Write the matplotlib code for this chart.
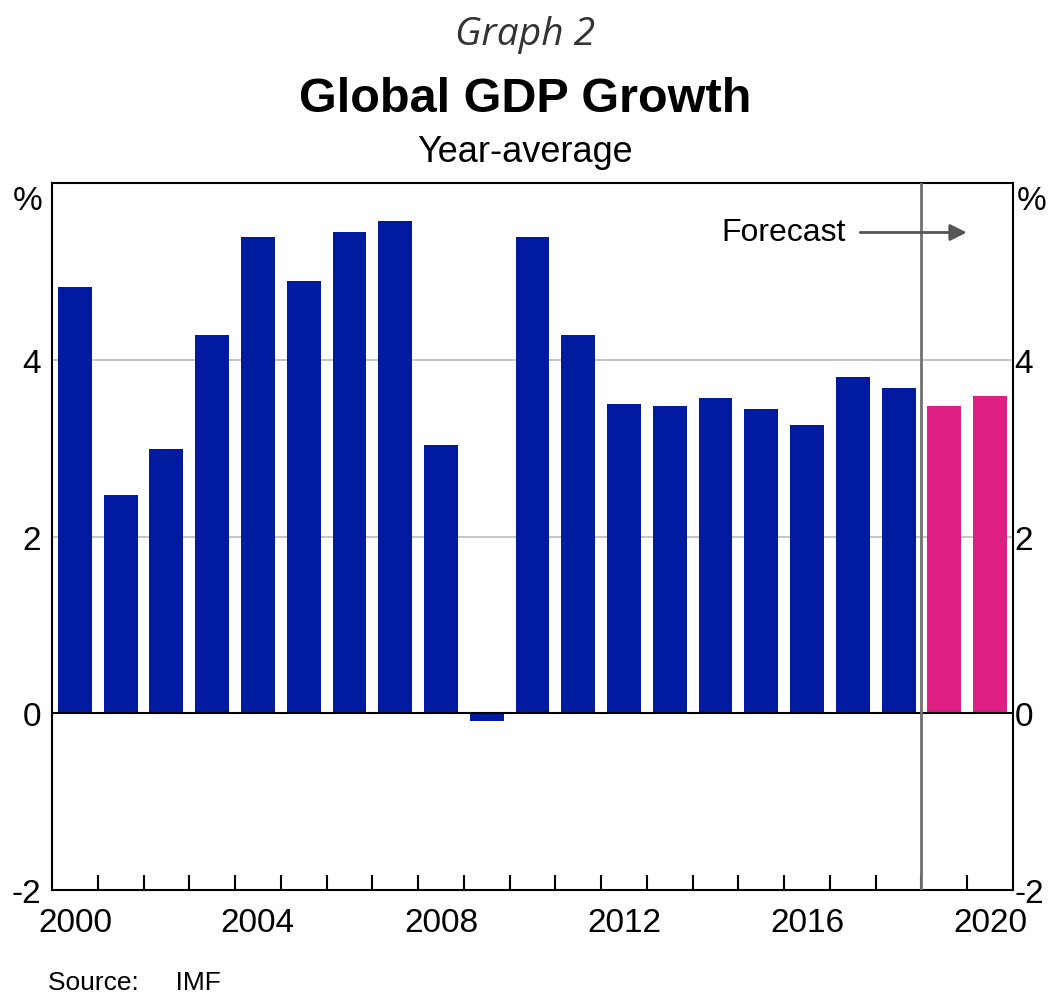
import matplotlib
matplotlib.use('Agg')
import matplotlib.pyplot as plt
import numpy as np

years = list(range(2000, 2021))
growth = [4.82, 2.47, 2.99, 4.28, 5.39, 4.89, 5.45, 5.57, 3.03, -0.09,
	5.39, 4.28, 3.50, 3.48, 3.57, 3.44, 3.26, 3.80, 3.68, 3.48, 3.59]
forecast_from = 2019
yticks = [-2, 0, 2, 4]
blue = '#001BA0'
pink = '#DE1F83'

plt.rcParams['font.family'] = ['Liberation Sans', 'DejaVu Sans']

fig = plt.figure(figsize=(10.5, 9.95), dpi=100)
ax = fig.add_axes([52/1050, 1-891/995, (1013-52)/1050, (891-184)/995])

colors = [pink if y >= forecast_from else blue for y in years]
ax.bar(years, growth, width=0.74, color=colors, zorder=3)

ax.set_xlim(1999.5, 2020.5)
ax.set_ylim(-2, 6)
for g in (2, 4):
	ax.axhline(g, color='#BBBBBB', lw=1.2, zorder=1)
ax.axhline(0, color='black', lw=1.5, zorder=4)
ax.axvline(forecast_from - 0.5, color='#707070', lw=2, zorder=5)

ax.set_xticks(range(2000, 2021, 4))
ax.set_xticks(np.arange(2000.5, 2020, 1), minor=True)
ax.tick_params(axis='x', which='major', length=0, labelsize=24, pad=12)
ax.tick_params(axis='x', which='minor', direction='in', length=11, width=1.5)
ax.set_yticks(yticks)
ax.set_yticklabels([str(t) for t in yticks])
ax.tick_params(axis='y', length=0, labelsize=24, pad=8)
for s in ax.spines.values():
	s.set_linewidth(1.5)

# right-hand labels on a twin axis so they can sit closer to the frame
ax2 = ax.twinx()
ax2.set_ylim(ax.get_ylim())
ax2.set_yticks(yticks)
ax2.set_yticklabels([str(t) for t in yticks])
ax2.tick_params(axis='y', length=0, labelsize=24, pad=1)
for s in ax2.spines.values():
	s.set_visible(False)

ax.text(-0.01, 0.975, '%', transform=ax.transAxes, ha='right', va='center',
	fontsize=24)
ax.text(1.004, 0.975, '%', transform=ax.transAxes, ha='left', va='center',
	fontsize=24)

ax.annotate('', xy=(2019.55, 5.44), xytext=(2017.1, 5.44),
	arrowprops=dict(arrowstyle='-|>', color='#555555', lw=2,
		mutation_scale=25), zorder=6)
ax.text(2016.85, 5.44, 'Forecast', ha='right', va='center', fontsize=23,
	zorder=6)

fig.text(0.5, 1-35/995, 'Graph 2', ha='center', va='center', fontsize=28,
	style='italic', color='#333333', family=['Open Sans', 'DejaVu Sans'])
fig.text(0.5, 1-100/995, 'Global GDP Growth', ha='center', va='center',
	fontsize=35, weight='bold')
fig.text(0.5, 1-153/995, 'Year-average', ha='center', va='center',
	fontsize=26)
fig.text(48/1050, 1-983/995, 'Source:     IMF', ha='left', va='center',
	fontsize=19)

fig.savefig('out.png', dpi=100)
